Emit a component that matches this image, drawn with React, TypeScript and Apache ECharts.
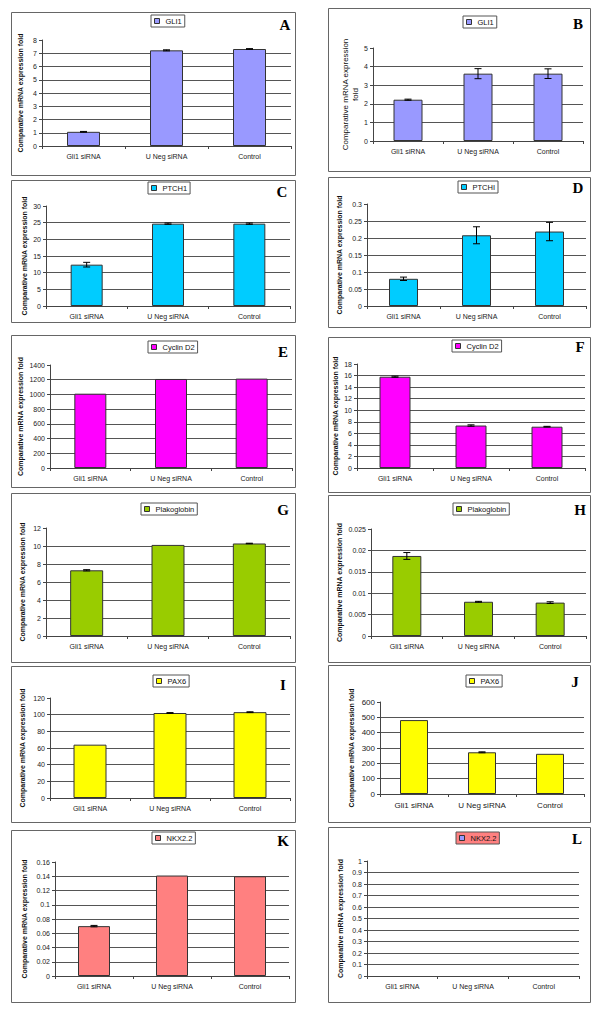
import React, { useEffect, useRef } from "react";
import * as echarts from "echarts";

// ---------- data ----------
const categories = ["Gli1 siRNA", "U Neg siRNA", "Control"];

const gli1A = [1.07, 7.22, 7.32];
const gli1AErr = [0.03, 0.04, 0.03];
const gli1B = [2.22, 3.62, 3.62];
const gli1BErr = [0.03, 0.27, 0.26];
const ptch1C = [12.4, 24.7, 24.7];
const ptch1CErr = [0.7, 0.2, 0.2];
const ptch1D = [0.08, 0.208, 0.219];
const ptch1DErr = [0.005, 0.025, 0.027];
const cyclinE = [1010, 1210, 1215];
const cyclinEErr = [0, 0, 0];
const cyclinF = [15.8, 7.35, 7.15];
const cyclinFErr = [0.1, 0.12, 0.06];
const plakoG = [7.3, 10.12, 10.28];
const plakoGErr = [0.07, 0, 0.03];
const plakoH = [0.0187, 0.008, 0.0078];
const plakoHErr = [0.0008, 0.0001, 0.0002];
const pax6I = [64, 102, 103];
const pax6IErr = [0, 0.5, 0.5];
const pax6J = [482, 272, 262];
const pax6JErr = [0, 3, 0];
const nkxK = [0.07, 0.141, 0.14];
const nkxKErr = [0.001, 0, 0];
const nkxL: number[] = [];
const nkxLErr: number[] = [];

const yMax = [8, 5, 30, 0.3, 1400, 18, 12, 0.025, 120, 600, 0.16, 1];
const yInterval = [1, 1, 5, 0.05, 200, 2, 2, 0.005, 20, 100, 0.02, 0.1];
const geneNames = ["GLI1", "GLI1", "PTCH1", "PTCHI", "Cyclin D2", "Cyclin D2", "Plakoglobin", "Plakoglobin", "PAX6", "PAX6", "NKX2.2", "NKX2.2"];
const letters = ["A", "B", "C", "D", "E", "F", "G", "H", "I", "J", "K", "L"];
const yTitle = "Comparative mRNA expression fold";

// ---------- styles / layout ----------
const colors = ["#9999FF", "#9999FF", "#00CCFF", "#00CCFF", "#FF00FF", "#FF00FF", "#99CC00", "#99CC00", "#FFFF00", "#FFFF00", "#FF8080", "#FF8080"];
const values = [gli1A, gli1B, ptch1C, ptch1D, cyclinE, cyclinF, plakoG, plakoH, pax6I, pax6J, nkxK, nkxL];
const errs = [gli1AErr, gli1BErr, ptch1CErr, ptch1DErr, cyclinEErr, cyclinFErr, plakoGErr, plakoHErr, pax6IErr, pax6JErr, nkxKErr, nkxLErr];

const grids = [
  { left: 42, top: 40, width: 249, height: 106 },
  { left: 373, top: 48, width: 210, height: 93 },
  { left: 46, top: 206, width: 244, height: 100 },
  { left: 367, top: 204, width: 219, height: 102 },
  { left: 50, top: 365, width: 242, height: 103 },
  { left: 357, top: 364, width: 228, height: 104 },
  { left: 46, top: 528, width: 244, height: 108 },
  { left: 371, top: 529, width: 215, height: 107 },
  { left: 50, top: 698, width: 240, height: 100 },
  { left: 380, top: 702, width: 204, height: 92 },
  { left: 55, top: 862, width: 234, height: 114 },
  { left: 367, top: 861, width: 212, height: 115 },
];
const barWidths = [33, 29, 32, 29, 32, 31, 33, 29, 33, 28, 32, 30];
const legendPos = [
  [151, 15], [463, 16], [148, 182], [458, 181], [148, 341], [452, 340],
  [141, 503], [453, 503], [153, 675], [466, 675], [152, 832], [456, 832],
];
const letterPos = [
  [285, 25], [578, 24], [282, 192], [578, 188], [283, 352], [580, 347],
  [283, 510], [580, 510], [283, 685], [575, 682], [283, 841], [577, 839],
];
const boxes = [
  [11, 12, 284, 163], [328, 8, 262, 163], [11, 180, 284, 142], [328, 177, 262, 150],
  [11, 335, 284, 152], [328, 337, 262, 155], [11, 493, 284, 169], [328, 495, 262, 167],
  [11, 666, 284, 156], [328, 665, 262, 157], [11, 830, 284, 172], [328, 827, 262, 175],
];
const nameGaps = [17, 12, 17, 23, 23, 14, 19, 27, 23, 24, 26, 22];

const FONT = 'Arial, "Liberation Sans", Helvetica, sans-serif';
const SERIF = '"Times New Roman", "Liberation Serif", serif';

function buildOption() {
  const grid: any[] = [];
  const xAxis: any[] = [];
  const yAxis: any[] = [];
  const series: any[] = [];
  const legend: any[] = [];
  const graphic: any[] = [];

  for (let i = 0; i < 12; i++) {
    grid.push({ ...grids[i], containLabel: false });
    const fs = i === 9 ? 8 : 7;
    xAxis.push({
      type: "category",
      gridIndex: i,
      data: categories,
      axisLine: { lineStyle: { color: "#444", width: 1 } },
      axisTick: { show: true, length: 3, lineStyle: { color: "#444" } },
      axisLabel: { fontSize: fs, color: "#222", fontFamily: FONT, margin: 7 },
    });
    const isB = i === 1;
    yAxis.push({
      type: "value",
      gridIndex: i,
      min: 0,
      max: yMax[i],
      interval: yInterval[i],
      name: isB ? "Comparative mRNA expression\nfold" : yTitle,
      nameLocation: "middle",
      nameRotate: 90,
      nameGap: nameGaps[i],
      nameTextStyle: {
        fontSize: isB ? 8 : 7,
        fontWeight: isB ? "normal" : "bold",
        fontFamily: FONT,
        color: "#111",
        lineHeight: 10,
      },
      axisLine: { show: true, lineStyle: { color: "#444", width: 1 } },
      axisTick: { show: true, length: 3, lineStyle: { color: "#444" } },
      axisLabel: {
        fontSize: fs,
        color: "#222",
        fontFamily: FONT,
        margin: 5,
        formatter: (v: number) => String(Number(v.toPrecision(6))),
      },
      splitLine: { show: true, showMaxLine: false, lineStyle: { color: "#555", width: 1 } },
    });

    series.push({
      type: "bar",
      name: geneNames[i],
      xAxisIndex: i,
      yAxisIndex: i,
      data: values[i],
      barWidth: barWidths[i],
      itemStyle: { color: i === 11 ? "#9999FF" : colors[i], borderColor: "#333", borderWidth: 1 },
      silent: true,
    });

    const errData: number[][] = [];
    values[i].forEach((v, k) => {
      const e = errs[i][k];
      if (e > 0) errData.push([k, v - e, v + e]);
    });
    if (errData.length) {
      series.push({
        type: "custom",
        name: geneNames[i] + " error",
        xAxisIndex: i,
        yAxisIndex: i,
        data: errData,
        silent: true,
        z: 5,
        renderItem: (params: any, api: any) => {
          const x = api.value(0);
          const lo = api.coord([x, api.value(1)]);
          const hi = api.coord([x, api.value(2)]);
          const h = 3.5;
          const st = { stroke: "#000", lineWidth: 1 };
          return {
            type: "group",
            children: [
              { type: "line", shape: { x1: lo[0], y1: lo[1], x2: hi[0], y2: hi[1] }, style: st },
              { type: "line", shape: { x1: hi[0] - h, y1: hi[1], x2: hi[0] + h, y2: hi[1] }, style: st },
              { type: "line", shape: { x1: lo[0] - h, y1: lo[1], x2: lo[0] + h, y2: lo[1] }, style: st },
            ],
          };
        },
      });
    }

    legend.push({
      data: [{ name: geneNames[i], itemStyle: { color: i === 11 ? "#9999FF" : colors[i], borderColor: "#333", borderWidth: 1 } }],
      left: legendPos[i][0],
      top: legendPos[i][1],
      orient: "horizontal",
      itemWidth: 5,
      itemHeight: 5,
      itemGap: 2,
      padding: [2, 3, 2, 3],
      borderColor: "#555",
      borderWidth: 1,
      backgroundColor: i === 11 ? "#FF8080" : "#fff",
      selectedMode: false,
      icon: "rect",
      textStyle: { fontSize: 7.5, color: "#111", fontFamily: FONT, padding: [0, 0, 0, 1] },
    });

    const b = boxes[i];
    graphic.push({
      type: "rect",
      shape: { x: b[0] + 0.5, y: b[1] + 0.5, width: b[2], height: b[3] },
      style: { fill: "none", stroke: "#666", lineWidth: 1 },
      z: -1,
      silent: true,
    });
    graphic.push({
      type: "text",
      x: letterPos[i][0],
      y: letterPos[i][1],
      style: {
        text: letters[i],
        fontSize: 15,
        fontWeight: "bold",
        fontFamily: SERIF,
        fill: "#000",
        align: "center",
        verticalAlign: "middle",
      },
      silent: true,
    });
  }

  return {
    animation: false,
    backgroundColor: "#fff",
    grid,
    xAxis,
    yAxis,
    series,
    legend,
    graphic,
  };
}

export default function App() {
  const ref = useRef<HTMLDivElement>(null);
  useEffect(() => {
    document.body.style.margin = "0";
    if (!ref.current) return;
    const chart = echarts.init(ref.current, null, { renderer: "svg" });
    chart.setOption(buildOption() as any);
    return () => chart.dispose();
  }, []);
  return <div ref={ref} style={{ width: 600, height: 1013 }} />;
}
